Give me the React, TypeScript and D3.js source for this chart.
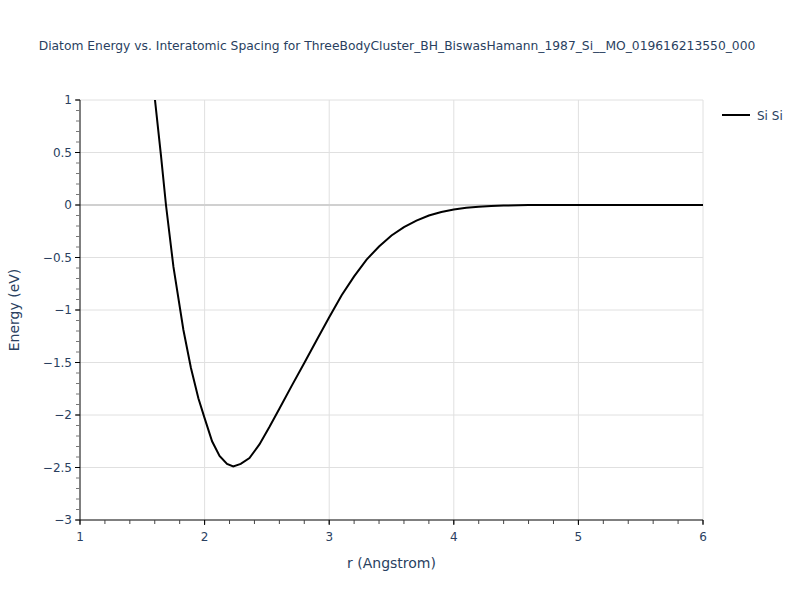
import React from 'react';
import * as d3 from 'd3';

// interatomic spacing (Angstrom) and energy (eV)
const rValues = [1.6, 1.65, 1.69, 1.75, 1.83, 1.89, 1.95, 2.0, 2.06, 2.12, 2.18, 2.23, 2.29, 2.36, 2.44, 2.52, 2.6, 2.7, 2.8, 2.9, 3.0, 3.1, 3.2, 3.3, 3.4, 3.5, 3.6, 3.7, 3.8, 3.9, 4.0, 4.1, 4.2, 4.3, 4.4, 4.6, 5.0, 5.5, 6.0];
const energyValues = [1.02, 0.47, 0.0, -0.59, -1.19, -1.55, -1.84, -2.03, -2.25, -2.39, -2.465, -2.49, -2.465, -2.41, -2.28, -2.115, -1.94, -1.72, -1.505, -1.285, -1.07, -0.86, -0.68, -0.52, -0.395, -0.29, -0.21, -0.148, -0.1, -0.066, -0.042, -0.026, -0.016, -0.009, -0.005, -0.001, 0, 0, 0];
const xTicks = [1, 2, 3, 4, 5, 6];
const yTicks = [1, 0.5, 0, -0.5, -1, -1.5, -2, -2.5, -3];
const seriesName = 'Si Si';
const title = 'Diatom Energy vs. Interatomic Spacing for ThreeBodyCluster_BH_BiswasHamann_1987_Si__MO_019616213550_000';

const W = 800;
const H = 600;
const margin = { top: 100, right: 97, bottom: 80, left: 80 };
const textColor = '#2a3f5f';
const font = 'Verdana, "DejaVu Sans", sans-serif';

const fmt = (v: number) => (v < 0 ? '\u2212' + Math.abs(v) : String(v));

export default function App() {
  const x = d3.scaleLinear().domain([1, 6]).range([margin.left, W - margin.right]);
  const y = d3.scaleLinear().domain([-3, 1]).range([H - margin.bottom, margin.top]);

  const pts = rValues.map((r, i) => [r, energyValues[i]] as [number, number]);
  const line = d3.line<[number, number]>().x((d) => x(d[0])).y((d) => y(d[1]));

  const xMinor = d3.range(1, 6.001, 0.2).map((v) => +v.toFixed(1));
  const yMinor = d3.range(-3, 1.001, 0.1).map((v) => +v.toFixed(1));

  const x0 = margin.left;
  const x1 = W - margin.right;
  const y0 = H - margin.bottom;
  const y1 = margin.top;

  return (
    <svg width={W} height={H} style={{ position: 'absolute', left: 0, top: 0, fontFamily: font }}>
      <rect width={W} height={H} fill="#fff" />
      <defs>
        <clipPath id="plotclip">
          <rect x={x0} y={y1} width={x1 - x0} height={y0 - y1} />
        </clipPath>
      </defs>

      {/* grid */}
      {xTicks.filter((t) => t > 1).map((t) => (
        <line key={'gx' + t} x1={x(t)} x2={x(t)} y1={y1} y2={y0} stroke="#e0e0e0" strokeWidth={1} />
      ))}
      {yTicks.filter((t) => t !== 0 && t !== -3).map((t) => (
        <line key={'gy' + t} x1={x0} x2={x1} y1={y(t)} y2={y(t)} stroke="#e0e0e0" strokeWidth={1} />
      ))}
      <line x1={x0} x2={x1} y1={y(0)} y2={y(0)} stroke="#d0d0d0" strokeWidth={2} />

      {/* curve */}
      <path d={line(pts) || ''} fill="none" stroke="#000" strokeWidth={2} clipPath="url(#plotclip)" />

      {/* axes */}
      <line x1={x0} x2={x1} y1={y0} y2={y0} stroke="#000" strokeWidth={1} />
      <line x1={x0} x2={x0} y1={y1} y2={y0} stroke="#000" strokeWidth={1} />

      {xMinor.map((t) => (
        <line key={'mx' + t} x1={x(t)} x2={x(t)} y1={y0} y2={y0 + 4} stroke="#444" strokeWidth={1} />
      ))}
      {yMinor.map((t) => (
        <line key={'my' + t} x1={x0 - 4} x2={x0} y1={y(t)} y2={y(t)} stroke="#777" strokeWidth={1} />
      ))}
      {xTicks.map((t) => (
        <g key={'tx' + t}>
          <line x1={x(t)} x2={x(t)} y1={y0} y2={y0 + 5} stroke="#000" strokeWidth={1} />
          <text x={x(t)} y={y0 + 21} textAnchor="middle" fontSize={12} fill={textColor}>{fmt(t)}</text>
        </g>
      ))}
      {yTicks.map((t) => (
        <g key={'ty' + t}>
          <line x1={x0 - 5} x2={x0} y1={y(t)} y2={y(t)} stroke="#000" strokeWidth={1} />
          <text x={x0 - 8} y={y(t) + 4} textAnchor="end" fontSize={12} fill={textColor}>{fmt(t)}</text>
        </g>
      ))}

      {/* labels */}
      <text x={(x0 + x1) / 2} y={568} textAnchor="middle" fontSize={14} fill={textColor}>r (Angstrom)</text>
      <text transform={`translate(19,${(y0 + y1) / 2}) rotate(-90)`} textAnchor="middle" fontSize={14} fill={textColor}>Energy (eV)</text>
      <text x={397} y={50} textAnchor="middle" fontSize={12.3} fill={textColor}>{title}</text>

      {/* legend */}
      <line x1={722} x2={750} y1={115} y2={115} stroke="#000" strokeWidth={2} />
      <text x={757} y={119.5} fontSize={12} fill={textColor}>{seriesName}</text>
    </svg>
  );
}
